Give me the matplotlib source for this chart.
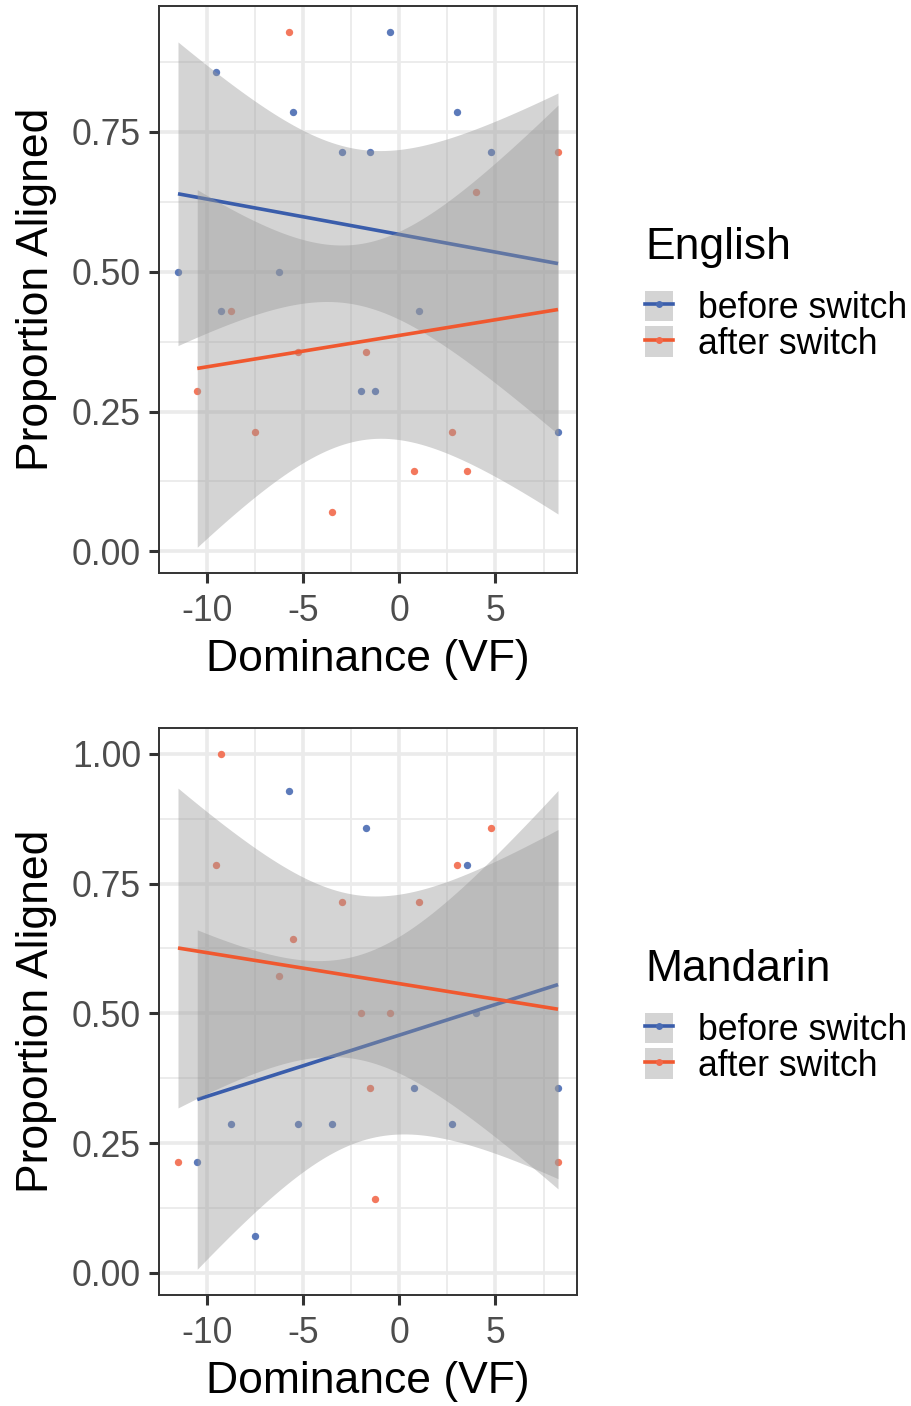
import numpy as np
import matplotlib
matplotlib.use("Agg")
import matplotlib.pyplot as plt
from matplotlib.lines import Line2D
from matplotlib.patches import Patch
from matplotlib.ticker import MultipleLocator

plt.rcParams['font.family'] = ['Liberation Sans', 'DejaVu Sans']

# dominance (VF) of the two participant groups
group_a_x = [-11.5, -9.5, -9.25, -6.25, -5.5, -3.0, -2.0, -1.5, -1.25, -0.5, 1.0, 3.0, 4.75, 8.25]
group_b_x = [-10.5, -8.75, -7.5, -5.75, -5.25, -3.5, -1.75, 0.75, 2.75, 3.5, 4.0, 8.25]

# proportion aligned
english_before = [0.500, 0.857, 0.429, 0.500, 0.786, 0.714, 0.286, 0.714, 0.286, 0.929, 0.429, 0.786, 0.714, 0.214]
english_after = [0.286, 0.429, 0.214, 0.929, 0.357, 0.071, 0.357, 0.143, 0.214, 0.143, 0.643, 0.714]
mandarin_before = [0.214, 0.286, 0.071, 0.929, 0.286, 0.286, 0.857, 0.357, 0.286, 0.786, 0.500, 0.357]
mandarin_after = [0.214, 0.786, 1.000, 0.571, 0.643, 0.714, 0.500, 0.357, 0.143, 0.500, 0.714, 0.786, 0.857, 0.214]

labels = ["before switch", "after switch"]
line_cols = ["#3A5DAB", "#F0582F"]
point_cols = ["#4A6CB3", "#F2694B"]

# two-sided 95% t quantiles by residual df
t95 = {10: 2.228139, 12: 2.178813}


def lm_band(x, y):
    x = np.asarray(x, float)
    y = np.asarray(y, float)
    n = len(x)
    b, a = np.polyfit(x, y, 1)
    resid = y - (a + b * x)
    s = np.sqrt((resid ** 2).sum() / (n - 2))
    sxx = ((x - x.mean()) ** 2).sum()
    xs = np.linspace(x.min(), x.max(), 80)
    fit = a + b * xs
    se = s * np.sqrt(1 / n + (xs - x.mean()) ** 2 / sxx)
    return xs, fit, fit - t95[n - 2] * se, fit + t95[n - 2] * se


panels = [
    ("English", [(group_a_x, english_before), (group_b_x, english_after)]),
    ("Mandarin", [(group_b_x, mandarin_before), (group_a_x, mandarin_after)]),
]

W, H = 912, 1406
fig = plt.figure(figsize=(W / 100, H / 100), dpi=100)
boxes = [(159, 6, 577, 573), (159, 728, 577, 1295)]

allx = group_a_x + group_b_x
xpad = 0.05 * (max(allx) - min(allx))

for (title, series), (l, t, r, b) in zip(panels, boxes):
    ax = fig.add_axes([l / W, 1 - b / H, (r - l) / W, (b - t) / H])

    # points first, then ribbon + line per group (ggplot order)
    for (x, y), c in zip(series, point_cols):
        ax.scatter(x, y, s=28, color=c, alpha=0.9, linewidths=0, zorder=2)
    lo_all, hi_all = [], []
    for (x, y), c in zip(series, line_cols):
        xs, fit, lo, hi = lm_band(x, y)
        ax.fill_between(xs, lo, hi, color="#999999", alpha=0.42, linewidth=0, zorder=3)
        ax.plot(xs, fit, color=c, lw=2.6, zorder=3, solid_capstyle="butt")
        lo_all += [lo.min(), min(y)]
        hi_all += [hi.max(), max(y)]

    ylo, yhi = min(lo_all), max(hi_all)
    ypad = 0.05 * (yhi - ylo)
    ax.set_ylim(ylo - ypad, yhi + ypad)
    ax.set_xlim(min(allx) - xpad, max(allx) + xpad)

    ax.xaxis.set_major_locator(MultipleLocator(5))
    ax.xaxis.set_minor_locator(MultipleLocator(2.5))
    ax.yaxis.set_major_locator(MultipleLocator(0.25))
    ax.yaxis.set_minor_locator(MultipleLocator(0.125))
    ax.yaxis.set_major_formatter(lambda v, p: f"{v:.2f}")
    ax.xaxis.set_major_formatter(lambda v, p: f"{v:g}")

    ax.set_axisbelow(True)
    ax.grid(which="major", color="#EBEBEB", lw=2.6)
    ax.grid(which="minor", color="#EBEBEB", lw=1.3)
    for sp in ax.spines.values():
        sp.set_color("#333333")
        sp.set_linewidth(1.4)
    ax.tick_params(which="major", length=7, width=2.2, color="#333333",
                   labelsize=25.6, labelcolor="#4D4D4D")
    ax.tick_params(axis="y", pad=6)
    ax.tick_params(axis="x", pad=8)
    ax.tick_params(which="minor", length=0)

    ax.set_xlabel("Dominance (VF)", fontsize=32, labelpad=7)
    ax.set_ylabel("Proportion Aligned", fontsize=32, labelpad=11)

    handles = [(Patch(facecolor="#999999", alpha=0.42, linewidth=0),
                Line2D([], [], color=c, lw=2.6, marker="o", markersize=5,
                       markerfacecolor=pc, markeredgewidth=0))
               for c, pc in zip(line_cols, point_cols)]
    leg = fig.legend(handles, labels, title=title, loc="center left",
                     bbox_to_anchor=(645 / W, 1 - ((t + b) / 2 + 5) / H),
                     frameon=False, fontsize=25.6, title_fontsize=32,
                     alignment="left", borderpad=0, borderaxespad=0,
                     handlelength=0.8, handleheight=0.95, labelspacing=0,
                     handletextpad=0.7)
    leg._legend_box.sep = 16

fig.savefig("out.png", dpi=100)
